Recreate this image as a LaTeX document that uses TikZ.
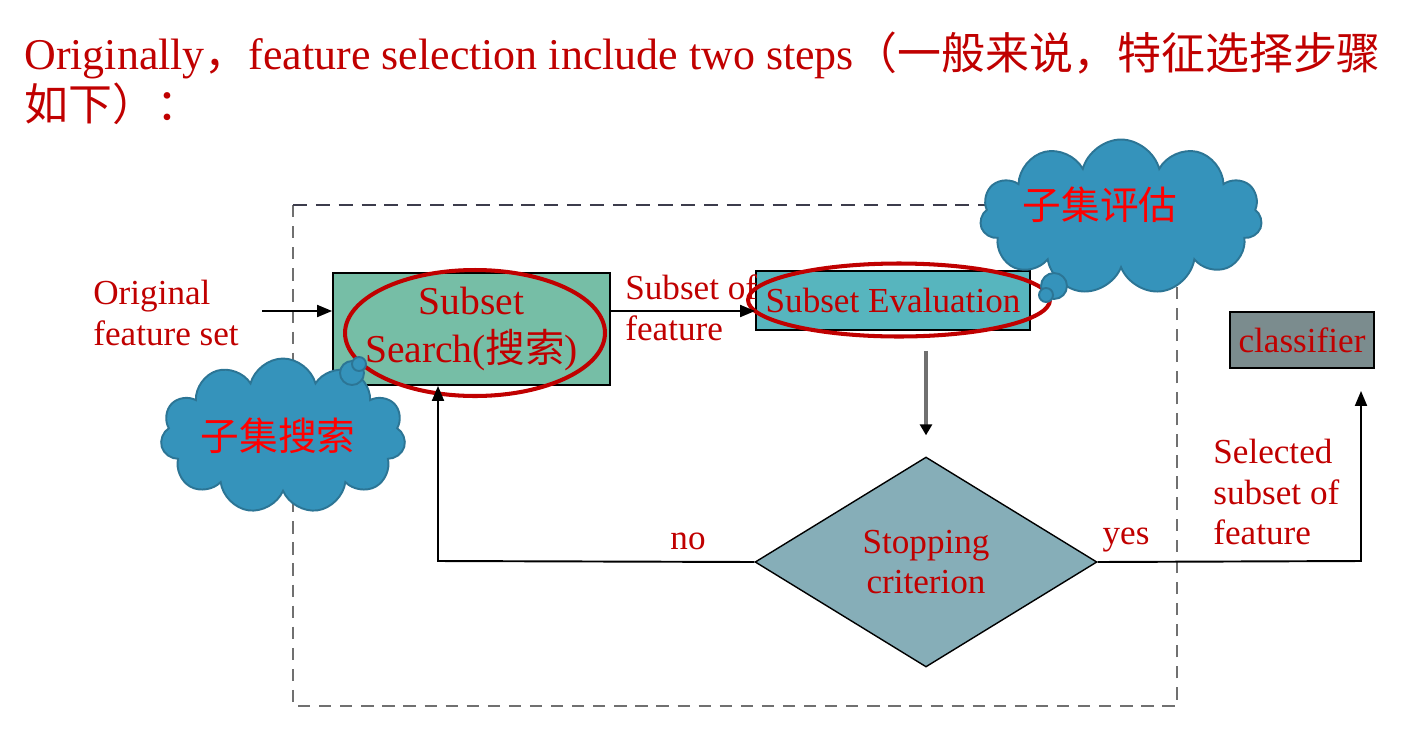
\documentclass[tikz,border=0pt]{standalone}
\usepackage{fontspec}
\setmainfont{Liberation Serif}
\newfontfamily\cjk{Noto Sans CJK SC}
\usetikzlibrary{arrows.meta,shapes.geometric,shapes.symbols}
\definecolor{titlered}{HTML}{C00000}
\definecolor{cloudred}{HTML}{FF0000}
\definecolor{searchfill}{HTML}{76BEA6}
\definecolor{evalfill}{HTML}{57B5BE}
\definecolor{stopfill}{HTML}{86AEB8}
\definecolor{clsfill}{HTML}{7B8C8E}
\definecolor{cloudfill}{HTML}{3593BB}
\definecolor{cloudline}{HTML}{2C7595}
\definecolor{framedark}{HTML}{3C3C4C}
\definecolor{framegray}{HTML}{707070}
\tikzset{
	stepbox/.style={draw=black, line width=1.1pt, inner sep=0pt, text=titlered, align=center, font=\fontsize{20}{23.2}\selectfont},
	lbl/.style={inner sep=0pt, text=titlered, align=left, font=\fontsize{20}{23.2}\selectfont},
	arr/.style={line width=1.1pt, -{Triangle[length=0.3cm,width=0.24cm]}},
	thought/.style={cloud, cloud puffs=11, draw=cloudline, line width=1.1pt, fill=cloudfill, inner sep=0pt},
	puff/.style={draw=cloudline, line width=1.1pt, fill=cloudfill},
	thoughttext/.style={inner sep=0pt, text=cloudred, font=\cjk\fontsize{22}{26}\selectfont},
	ring/.style={draw=titlered, line width=2.3pt},
}

\begin{document}
\begin{tikzpicture}[x=0.02cm, y=-0.02cm]
		%%%%% START %%%%%
		\useasboundingbox (0, 0) rectangle (1412, 744);
		
		\node[anchor=north west, inner sep=0pt, text=titlered, align=left, font=\fontsize{25}{28.9}\selectfont] (title) at (24, 32)
			{Originally{\cjk ，}feature selection include two steps{\cjk （一般来说，特征选择步骤}\\{\cjk 如下）：}};
		
		% dashed frame
		\coordinate (frameTL) at (293, 205);
		\coordinate (frameBR) at (1177, 706);
		\draw[framegray, line width=0.9pt, dash pattern=on 7pt off 5pt] (frameTL) -- (frameTL |- frameBR) -- (frameBR) -- (frameBR |- frameTL);
		\draw[framedark, line width=1.3pt, dash pattern=on 8pt off 5pt] (frameTL) -- (frameBR |- frameTL);
		
		% steps
		\node[stepbox, fill=searchfill, minimum width=5.54cm, minimum height=2.24cm, font=\fontsize{22.5}{27.8}\selectfont] (search) at (471.5, 329)
			{Subset\\Search({\cjk 搜索})};
		\node[stepbox, fill=evalfill, minimum width=5.48cm, minimum height=1.18cm] (eval) at (893, 300.5) {Subset Evaluation};
		\node[stepbox, fill=clsfill, minimum width=2.88cm, minimum height=1.12cm] (cls) at (1302, 340) {classifier};
		\node[diamond, draw=black, line width=0.8pt, fill=stopfill, minimum width=6.84cm, minimum height=4.2cm, inner sep=0pt,
			text=titlered, align=center, font=\fontsize{20}{23.2}\selectfont] (stop) at (926, 562) {Stopping\\criterion};
		
		\draw[ring] (475, 333) ellipse [x radius=2.6cm, y radius=1.26cm];
		\draw[ring] (899, 300) ellipse [x radius=3.02cm, y radius=0.73cm];
		
		% labels
		\node[lbl, anchor=west] (orig) at (93, 313) {Original\\feature set};
		\node[lbl, anchor=west] (subfeat) at (625, 308) {Subset of\\feature};
		\node[lbl, anchor=west] (selected) at (1213, 492) {Selected\\subset of\\feature};
		\node[lbl] (no) at (688, 541) {no};
		\node[lbl] (yes) at (1126, 540) {yes};
		
		% connectors
		\coordinate (origout) at (262, 311);
		\draw[arr] (origout) -- (origout -| search.west);
		\draw[arr] (search.east |- origout) -- (eval.west |- origout);
		\draw[framegray, line width=2.2pt, -{Triangle[length=0.22cm,width=0.24cm,black]}] ([yshift=-0.4cm]eval.south -| stop.north) -- ([yshift=0.42cm]stop.north);
		\coordinate (nocorner) at (438, 561);
		\draw[arr] (stop.west) -- (nocorner) -- (nocorner |- search.south);
		\coordinate (yescorner) at (1361, 561);
		\coordinate (clsin) at ([yshift=-0.44cm]cls.south);
		\draw[arr] (stop.east) -- (yescorner) -- (yescorner |- clsin);
		
		% thought clouds
		\node[thought, minimum width=4.9cm, minimum height=3.1cm] (searchcloud) at (283, 436) {};
		\draw[puff] (352, 373) circle (0.24cm);
		\draw[puff] (359, 364) circle (0.14cm);
		\node[thoughttext] (searchnote) at (278, 436) {子集搜索};
		\node[thought, minimum width=5.64cm, minimum height=3.1cm] (evalcloud) at (1121, 217) {};
		\draw[puff] (1054, 286) circle (0.26cm);
		\draw[puff] (1046, 295) circle (0.14cm);
		\node[thoughttext] (evalnote) at (1100, 205) {子集评估};
		
		%%%%% END %%%%%
	\end{tikzpicture}
\end{document}
